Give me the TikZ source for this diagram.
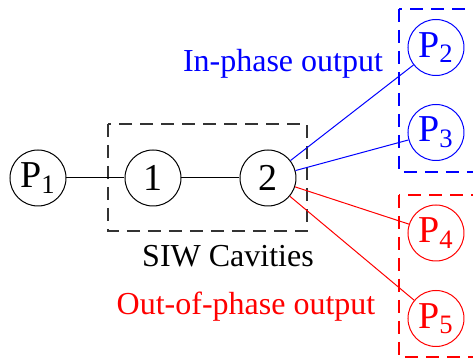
\documentclass[tikz,border=0pt]{standalone}
\usepackage{fontspec}
\setmainfont{Liberation Serif}
\usetikzlibrary{positioning}

\begin{document}
\begin{tikzpicture}[
      x=0.5pt, y=-0.5pt,
      every node/.style={font=\fontsize{16}{19}\selectfont},
      port/.style={
        circle, draw, line width=0.5pt, inner sep=0pt,
        minimum size=28pt, font=\fontsize{19}{22}\selectfont
      },
      inport/.style={port, draw=blue, text=blue},
      outport/.style={port, draw=red, text=red},
      group/.style={dash pattern=on 6.5pt off 4pt, line width=0.6pt},
      wire/.style={line width=0.5pt}
    ]
      \useasboundingbox (0,0) rectangle (473,358);
      % input port and the two cavities
      \node[port] (p1) at (38,178) {P\textsubscript{1}};
      \node[port, right=29pt of p1] (c1) {1};
      \node[port, right=29pt of c1] (c2) {2};
      \draw[group, draw=black!80] (108,124) rectangle (307,231);
      \node[anchor=base] (siw) at (228,267) {SIW Cavities};

      % output ports
      \node[inport] (p2) at (436,47.5) {P\textsubscript{2}};
      \node[inport] (p3) at (436,132.5) {P\textsubscript{3}};
      \node[outport] (p4) at (436,233) {P\textsubscript{4}};
      \node[outport] (p5) at (436,318.5) {P\textsubscript{5}};
      \draw[group, draw=blue] (399,9) rectangle (500,172);
      \draw[group, draw=red] (399,195) rectangle (500,357);
      \node[anchor=base, text=blue] (inph) at (283,72) {In-phase output};
      \node[anchor=base, text=red] (outph) at (246,315) {Out-of-phase output};

      \draw[wire] (p1) -- (c1);
      \draw[wire] (c1) -- (c2);
      \draw[wire, blue] (c2) -- (p2);
      \draw[wire, blue] (c2) -- (p3);
      \draw[wire, red] (c2) -- (p4);
      \draw[wire, red] (c2) -- (p5);
    \end{tikzpicture}
\end{document}
